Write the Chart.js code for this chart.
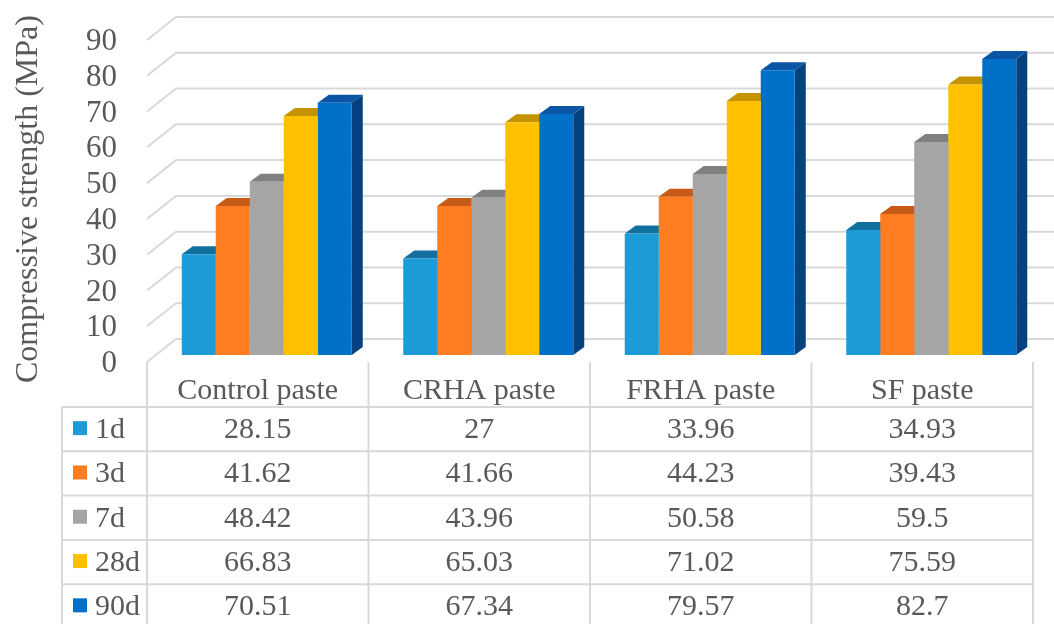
<!DOCTYPE html>
<html>
<head>
<meta charset="utf-8">
<script src="https://cdn.jsdelivr.net/npm/chart.js@4/dist/chart.umd.min.js"></script>
<style>
  html, body { margin: 0; padding: 0; background: #ffffff; }
  #wrap { width: 1054px; height: 624px; position: relative; }
  canvas { display: block; }
</style>
</head>
<body>
<div id="wrap"><canvas id="c" width="1054" height="624"></canvas></div>
<script>
// ---- data ----
const categories = ['Control paste', 'CRHA paste', 'FRHA paste', 'SF paste'];
const seriesNames = ['1d', '3d', '7d', '28d', '90d'];
const strength1d  = [28.15, 27, 33.96, 34.93];
const strength3d  = [41.62, 41.66, 44.23, 39.43];
const strength7d  = [48.42, 43.96, 50.58, 59.5];
const strength28d = [66.83, 65.03, 71.02, 75.59];
const strength90d = [70.51, 67.34, 79.57, 82.7];
const yMin = 0, yMax = 90, yStep = 10;
const axisTitle = 'Compressive strength (MPa)';

// ---- styles ----
const frontColors = ['#1D9BD7', '#FD7D20', '#A5A5A5', '#FFC000', '#0071C7'];
const capColors   = ['#12709F', '#C65A16', '#808080', '#C59300', '#0C55A4'];
const sideColors  = ['#11659A', '#B24F12', '#737373', '#B28500', '#05407F'];
const FONT = '"Liberation Serif", "Times New Roman", serif';
const TEXT = '#595959';
const GRID = '#d9d9d9';
const FX = -9, FY = 7;    // front plane relative to bar plane
const BX = 20, BY = -16;  // back wall relative to bar plane
const DX = 11, DY = -8;   // bar depth
const ROW_H = 44.3, HEADER_H = 45;

const seriesValues = [strength1d, strength3d, strength7d, strength28d, strength90d];

function poly(ctx, pts) {
  ctx.beginPath();
  ctx.moveTo(pts[0], pts[1]);
  for (let i = 2; i < pts.length; i += 2) ctx.lineTo(pts[i], pts[i + 1]);
  ctx.closePath();
  ctx.fill();
}

const pseudo3d = {
  id: 'pseudo3d',
  beforeDatasetsDraw(chart) {
    const { ctx, chartArea, scales: { y } } = chart;
    ctx.save();
    // walls / gridlines
    ctx.strokeStyle = GRID;
    ctx.lineWidth = 2;
    y.ticks.forEach(t => {
      const py = y.getPixelForValue(t.value);
      ctx.beginPath();
      ctx.moveTo(chartArea.left + FX, py + FY);
      ctx.lineTo(chartArea.left + BX, py + BY);
      ctx.lineTo(chart.width, py + BY);
      ctx.stroke();
    });
    // bar sides and caps
    chart.data.datasets.forEach((ds, i) => {
      const meta = chart.getDatasetMeta(i);
      meta.data.forEach(bar => {
        const p = bar.getProps(['x', 'y', 'base', 'width'], true);
        const l = p.x - p.width / 2, r = p.x + p.width / 2;
        ctx.fillStyle = sideColors[i];
        poly(ctx, [r, p.y, r + DX, p.y + DY, r + DX, p.base + DY, r, p.base]);
        ctx.fillStyle = capColors[i];
        poly(ctx, [l, p.y, l + DX, p.y + DY, r + DX, p.y + DY, r, p.y]);
      });
    });
    ctx.restore();
  },
  afterDraw(chart) {
    const { ctx, chartArea, scales: { y } } = chart;
    const n = categories.length;
    const catW = (chartArea.right - chartArea.left) / n;
    const edges = [];
    for (let k = 0; k <= n; k++) edges.push(chartArea.left + k * catW + FX);
    const headTop = y.getPixelForValue(yMin) + FY;
    const headBot = headTop + HEADER_H;
    const legendLeft = 62;
    ctx.save();
    // table lines
    ctx.strokeStyle = GRID;
    ctx.lineWidth = 2;
    edges.forEach(ex => {
      ctx.beginPath(); ctx.moveTo(ex, headTop); ctx.lineTo(ex, chart.height + 10); ctx.stroke();
    });
    ctx.beginPath(); ctx.moveTo(legendLeft, headBot); ctx.lineTo(legendLeft, chart.height + 10); ctx.stroke();
    for (let r = 0; r <= seriesNames.length; r++) {
      const ly = headBot + r * ROW_H;
      ctx.beginPath(); ctx.moveTo(legendLeft, ly); ctx.lineTo(edges[n], ly); ctx.stroke();
    }
    // header labels
    ctx.fillStyle = TEXT;
    ctx.font = '30px ' + FONT;
    ctx.textAlign = 'center';
    ctx.textBaseline = 'alphabetic';
    categories.forEach((c, j) => {
      ctx.fillText(c, (edges[j] + edges[j + 1]) / 2, headTop + 37);
    });
    // rows
    seriesNames.forEach((s, i) => {
      const top = headBot + i * ROW_H;
      const mid = top + ROW_H / 2;
      ctx.fillStyle = frontColors[i];
      ctx.fillRect(73, mid - 8, 14, 14);
      ctx.fillStyle = TEXT;
      ctx.textAlign = 'left';
      ctx.fillText(s, 95, top + 31);
      ctx.textAlign = 'center';
      seriesValues[i].forEach((v, j) => {
        ctx.fillText(String(v), (edges[j] + edges[j + 1]) / 2, top + 31);
      });
    });
    // axis title
    ctx.translate(29, 199);
    ctx.rotate(-Math.PI / 2);
    ctx.font = '32px ' + FONT;
    ctx.textAlign = 'center';
    ctx.textBaseline = 'middle';
    ctx.fillText(axisTitle, 0, 0);
    ctx.restore();
  }
};

Chart.defaults.font.family = FONT;
Chart.defaults.color = TEXT;

new Chart(document.getElementById('c'), {
  type: 'bar',
  data: {
    labels: categories,
    datasets: seriesNames.map((name, i) => ({
      label: name,
      data: seriesValues[i],
      backgroundColor: frontColors[i],
      borderWidth: 0,
      categoryPercentage: 0.7675,
      barPercentage: 1.0
    }))
  },
  options: {
    responsive: false,
    devicePixelRatio: 1,
    animation: false,
    layout: { padding: { top: 33, right: 12, bottom: 269, left: 0 } },
    plugins: { legend: { display: false }, tooltip: { enabled: false } },
    scales: {
      x: { display: false },
      y: {
        min: yMin, max: yMax,
        afterFit(scale) {
          scale.width = 156;
          scale.paddingTop = 0;
          scale.paddingBottom = 0;
        },
        grid: { display: false, drawTicks: false },
        border: { display: false },
        ticks: {
          stepSize: yStep,
          autoSkip: false,
          padding: 39,
          labelOffset: 9,
          color: TEXT,
          font: { size: 31, family: FONT }
        }
      }
    }
  },
  plugins: [pseudo3d]
});
</script>
</body>
</html>
